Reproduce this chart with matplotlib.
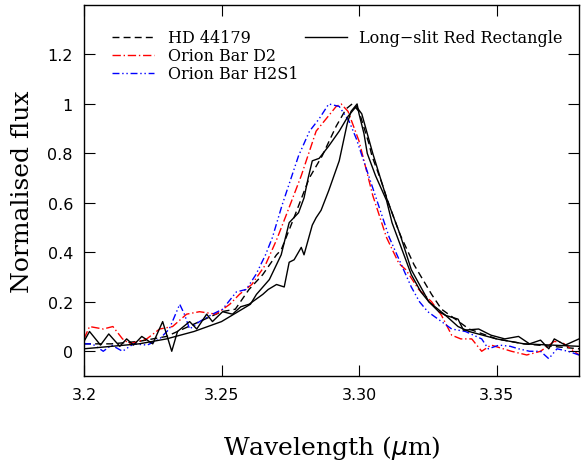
import matplotlib
matplotlib.use('Agg')
import matplotlib.pyplot as plt
import numpy as np
from matplotlib.lines import Line2D

# HD 44179 (dashed black)
hd_wave = [3.200, 3.210, 3.220, 3.230, 3.238, 3.244, 3.250, 3.255, 3.260, 3.265,
           3.270, 3.2717, 3.276, 3.2819, 3.2866, 3.2917, 3.2953, 3.2975, 3.300,
           3.3036, 3.3047, 3.308, 3.311, 3.315, 3.320, 3.3264, 3.330, 3.335,
           3.340, 3.345, 3.350, 3.360, 3.370, 3.380]
hd_flux = [0.03, 0.03, 0.04, 0.06, 0.10, 0.13, 0.16, 0.17, 0.25, 0.31,
           0.39, 0.41, 0.53, 0.70, 0.79, 0.91, 0.98, 1.00, 0.97,
           0.84, 0.79, 0.69, 0.59, 0.47, 0.35, 0.23, 0.17, 0.13,
           0.09, 0.07, 0.05, 0.03, 0.02, 0.01]

# Orion Bar D2 (red dash-dot)
d2_wave = [3.200, 3.202, 3.207, 3.2105, 3.214, 3.2167, 3.2228, 3.2275, 3.2322,
           3.2373, 3.242, 3.248, 3.253, 3.2565, 3.261, 3.266, 3.270, 3.2735,
           3.279, 3.2844, 3.2917, 3.2935, 3.296, 3.300, 3.305, 3.310, 3.3145,
           3.317, 3.3217, 3.3264, 3.330, 3.3337, 3.337, 3.341, 3.3446, 3.348,
           3.3554, 3.361, 3.366, 3.371, 3.374, 3.380]
d2_flux = [0.05, 0.10, 0.09, 0.10, 0.05, 0.03, 0.05, 0.09, 0.10,
           0.15, 0.16, 0.15, 0.19, 0.23, 0.27, 0.35, 0.45, 0.55,
           0.71, 0.89, 0.99, 1.00, 0.97, 0.85, 0.63, 0.46, 0.355,
           0.33, 0.25, 0.20, 0.145, 0.065, 0.05, 0.05, 0.0, 0.025,
           0.0, -0.015, 0.0, 0.04, 0.035, -0.015]

# Orion Bar H2S1 (blue dash-dot-dot)
h2_wave = [3.200, 3.203, 3.207, 3.210, 3.214, 3.218, 3.223, 3.2275, 3.231,
           3.2348, 3.2365, 3.2384, 3.242, 3.2467, 3.2504, 3.2554, 3.259, 3.2625,
           3.266, 3.2685, 3.272, 3.275, 3.278, 3.282, 3.2855, 3.289, 3.2928,
           3.2964, 3.299, 3.302, 3.305, 3.308, 3.311, 3.315, 3.319, 3.322,
           3.325, 3.330, 3.3337, 3.3387, 3.3446, 3.347, 3.351, 3.355, 3.358,
           3.362, 3.366, 3.369, 3.372, 3.376, 3.380]
h2_flux = [0.03, 0.03, 0.0, 0.025, 0.0, 0.03, 0.025, 0.05, 0.09,
           0.19, 0.15, 0.09, 0.12, 0.15, 0.17, 0.24, 0.25, 0.31,
           0.39, 0.46, 0.59, 0.69, 0.79, 0.89, 0.94, 1.00, 0.99,
           0.93, 0.86, 0.76, 0.66, 0.56, 0.46, 0.36, 0.26, 0.20,
           0.16, 0.12, 0.09, 0.08, 0.05, 0.01, 0.025, 0.02, 0.01,
           0.0, 0.0, -0.03, 0.01, 0.0, -0.015]

# Long-slit Red Rectangle, two slit positions (solid black)
rr1_wave = [3.200, 3.210, 3.220, 3.230, 3.240, 3.250, 3.2605, 3.2627, 3.2674,
            3.2717, 3.2746, 3.278, 3.280, 3.2815, 3.283, 3.2855, 3.289, 3.2928,
            3.296, 3.299, 3.301, 3.305, 3.310, 3.315, 3.319, 3.3254, 3.3315,
            3.336, 3.340, 3.345, 3.350, 3.360, 3.370, 3.380]
rr1_flux = [0.01, 0.02, 0.03, 0.05, 0.08, 0.12, 0.19, 0.23, 0.29,
            0.39, 0.52, 0.56, 0.62, 0.70, 0.77, 0.78, 0.83, 0.89,
            0.95, 0.99, 0.96, 0.80, 0.62, 0.47, 0.33, 0.20, 0.145,
            0.10, 0.08, 0.065, 0.05, 0.03, 0.025, 0.02]

rr2_wave = [3.200, 3.202, 3.206, 3.209, 3.213, 3.2155, 3.218, 3.221, 3.225,
            3.2286, 3.2319, 3.234, 3.2384, 3.241, 3.2446, 3.2467, 3.2504, 3.254,
            3.257, 3.260, 3.265, 3.267, 3.270, 3.2728, 3.2746, 3.2764, 3.279,
            3.280, 3.283, 3.2844, 3.2862, 3.289, 3.2928, 3.2957, 3.2971, 3.2993,
            3.300, 3.3018, 3.303, 3.306, 3.310, 3.312, 3.316, 3.319, 3.3225,
            3.3254, 3.329, 3.3315, 3.336, 3.338, 3.3435, 3.348, 3.353, 3.358,
            3.362, 3.366, 3.369, 3.371, 3.375, 3.380]
rr2_flux = [0.04, 0.08, 0.025, 0.07, 0.02, 0.05, 0.025, 0.06, 0.03,
            0.12, 0.0, 0.08, 0.12, 0.09, 0.15, 0.12, 0.16, 0.15,
            0.18, 0.19, 0.23, 0.25, 0.27, 0.26, 0.36, 0.37, 0.42,
            0.39, 0.51, 0.54, 0.57, 0.65, 0.77, 0.92, 0.97, 1.00,
            0.96, 0.88, 0.80, 0.71, 0.61, 0.52, 0.40, 0.31, 0.24,
            0.20, 0.16, 0.145, 0.13, 0.085, 0.09, 0.065, 0.05, 0.06,
            0.03, 0.045, 0.01, 0.05, 0.025, 0.05]

xticks = [3.2, 3.25, 3.30, 3.35]
xticklabels = ['3.2', '3.25', '3.30', '3.35']
yticks = [0, 0.2, 0.4, 0.6, 0.8, 1.0, 1.2]
yticklabels = ['0', '0.2', '0.4', '0.6', '0.8', '1', '1.2']

fig = plt.figure(figsize=(5.81, 4.64), dpi=100)
ax = fig.add_axes([0.1446, 0.1875, 0.8520, 0.7995])

lw = 1.0
dash_hd = (0, (5, 3))
dash_d2 = (0, (6, 2, 1, 2))
dash_h2 = (0, (5, 2, 1, 2, 1, 2))
ax.plot(hd_wave, hd_flux, color='black', ls=dash_hd, lw=lw)
ax.plot(d2_wave, d2_flux, color='red', ls=dash_d2, lw=lw)
ax.plot(h2_wave, h2_flux, color='blue', ls=dash_h2, lw=lw)
ax.plot(rr1_wave, rr1_flux, color='black', ls='-', lw=lw)
ax.plot(rr2_wave, rr2_flux, color='black', ls='-', lw=lw)

ax.set_xlim(3.2, 3.38)
ax.set_ylim(-0.1, 1.4)
ax.set_xticks(xticks)
ax.set_xticklabels(xticklabels)
ax.set_yticks(yticks)
ax.set_yticklabels(yticklabels)
ax.tick_params(direction='in', length=8, width=0.8, top=True, right=True,
               labelsize=11.5, pad=8)
for s in ax.spines.values():
    s.set_linewidth(1.0)

ax.set_xlabel(r'Wavelength ($\mu$m)', family='DejaVu Serif', fontsize=18, labelpad=22)
ax.set_ylabel('Normalised flux', family='DejaVu Serif', fontsize=18, labelpad=10)

# legend: three entries on the left, Red Rectangle on the right
legprop = {'family': 'DejaVu Serif', 'size': 11.5}
h1 = [Line2D([], [], color='black', ls=dash_hd, lw=lw),
      Line2D([], [], color='red', ls=dash_d2, lw=lw),
      Line2D([], [], color='blue', ls=dash_h2, lw=lw)]
leg1 = ax.legend(h1, ['HD 44179', 'Orion Bar D2', 'Orion Bar H2S1'],
                 loc='upper left', bbox_to_anchor=(0.0566, 0.935), frameon=False,
                 borderpad=0, borderaxespad=0,
                 handlelength=2.6, handletextpad=0.9, labelspacing=0.07,
                 prop=legprop)
ax.add_artist(leg1)
h2 = [Line2D([], [], color='black', ls='-', lw=lw)]
ax.legend(h2, ['Long\u2212slit Red Rectangle'], loc='upper left',
          bbox_to_anchor=(0.4465, 0.935), frameon=False,
          borderpad=0, borderaxespad=0,
          handlelength=2.6, handletextpad=0.8,
          prop=legprop)

fig.savefig('out.png', dpi=100)
